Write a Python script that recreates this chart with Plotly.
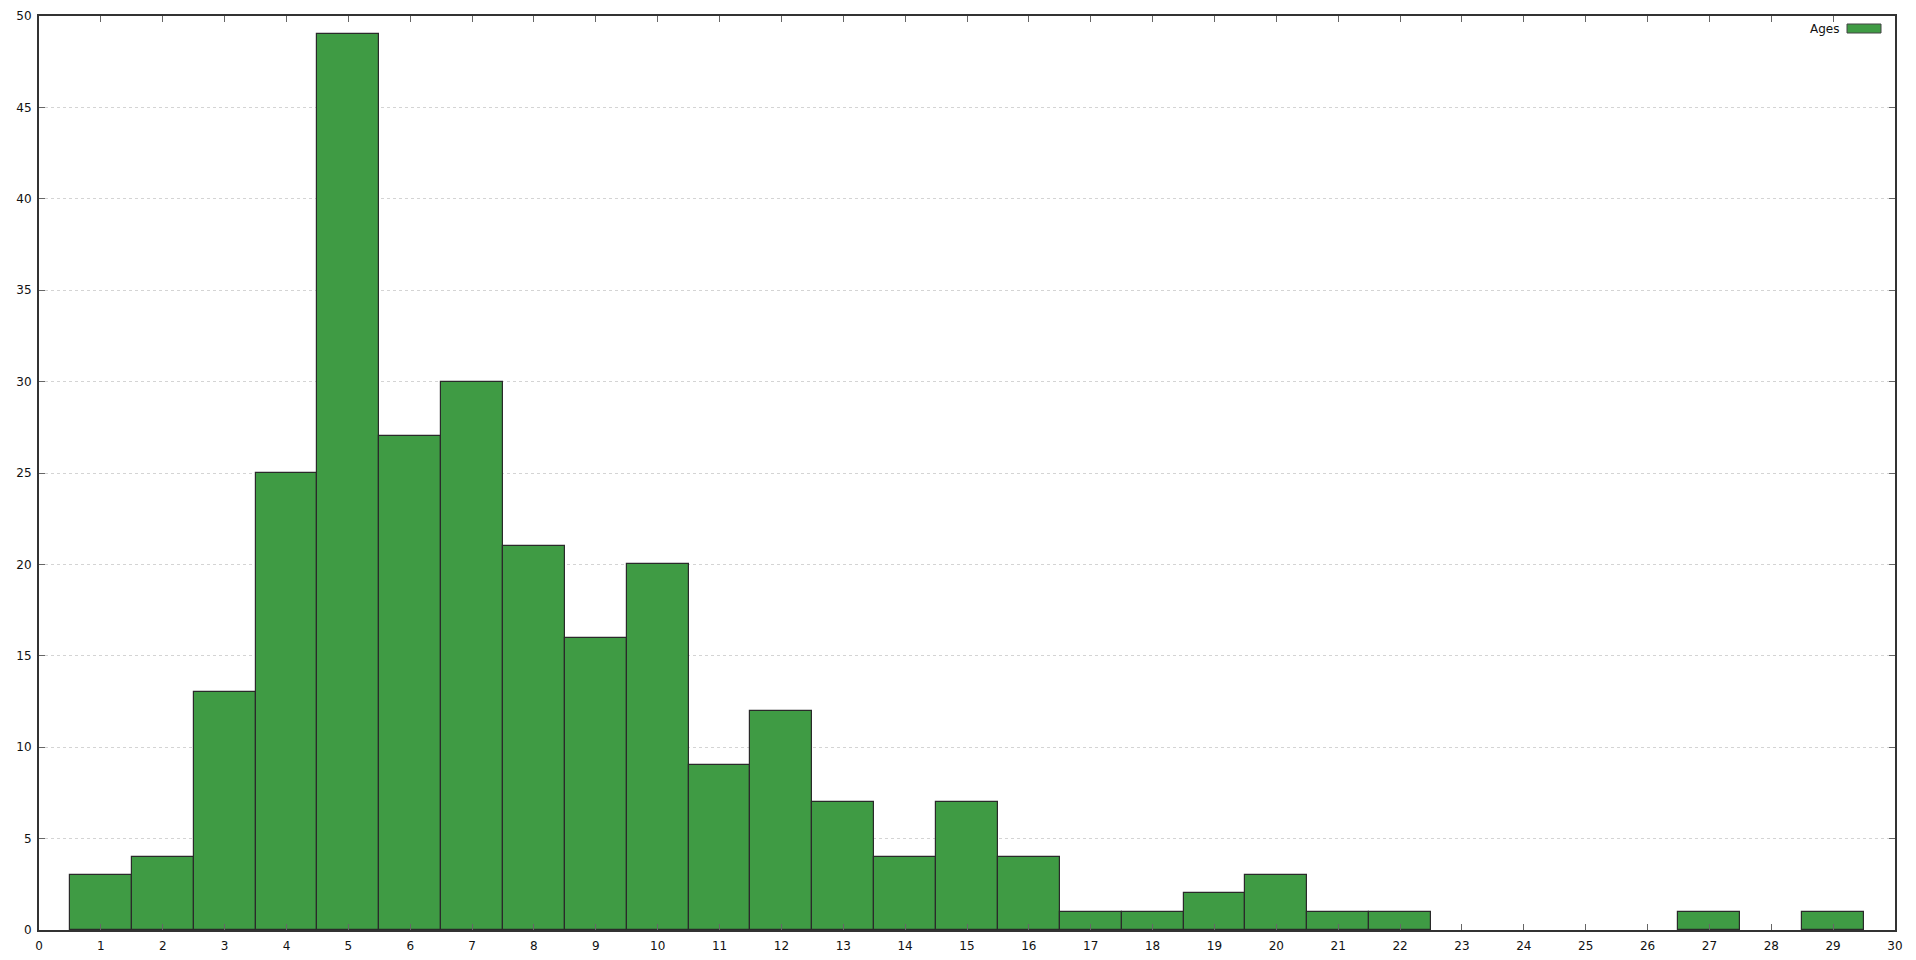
import plotly.graph_objects as go

ages = list(range(1, 30))
counts = [3, 4, 13, 25, 49, 27, 30, 21, 16, 20, 9, 12, 7, 4, 7, 4, 1, 1, 2, 3, 1, 1, 0, 0, 0, 0, 1, 0, 1]
series_name = "Ages"
bar_color = "#3f9b44"
x_ticks = list(range(0, 31))
y_ticks = list(range(0, 51, 5))

W, H = 1916, 960
l, t = 39, 16
r = W - 1895
b = H - 930

outline_w = [1.2 if c > 0 else 0 for c in counts]

fig = go.Figure()
fig.add_trace(go.Bar(
    x=ages, y=counts, width=1, name=series_name,
    marker=dict(color=bar_color, line=dict(color="#2a2a2a", width=outline_w)),
    showlegend=False, hoverinfo="skip",
))

font = dict(family="DejaVu Sans", size=12, color="#111")
fig.update_layout(
    width=W, height=H,
    margin=dict(l=l, r=r, t=t, b=b, pad=0, autoexpand=False),
    paper_bgcolor="white", plot_bgcolor="white",
    font=font,
    bargap=0,
)
fig.update_xaxes(
    range=[0, 30], tickvals=x_ticks, showgrid=False, zeroline=False,
    showline=True, linecolor="#333", linewidth=2, mirror="ticks",
    ticks="inside", ticklen=6, tickcolor="#666", tickwidth=1,
    automargin=False, ticklabelstandoff=4,
)
fig.update_yaxes(
    range=[0, 50], tickvals=y_ticks, showgrid=True, gridcolor="#d4d4d4",
    griddash="dot", gridwidth=1, zeroline=False,
    showline=True, linecolor="#333", linewidth=2, mirror="ticks",
    ticks="inside", ticklen=6, tickcolor="#666", tickwidth=1,
    automargin=False, ticklabelstandoff=3,
)

# legend key (text left of the sample box, gnuplot style), page pixel coords
pw, ph = W - l - r, H - t - b
def px(xp):
    return (xp - l) / pw
def py(yp):
    return (H - yp - b) / ph

fig.add_annotation(
    x=px(1841), y=py(29), xref="paper", yref="paper", text=series_name,
    showarrow=False, xanchor="right", yanchor="middle", font=font,
)
fig.add_shape(
    type="rect", xref="paper", yref="paper",
    x0=px(1847), x1=px(1881), y0=py(33), y1=py(24),
    fillcolor=bar_color, line=dict(color="#444", width=1),
)

fig.write_html(
    "out.html",
    config={"displayModeBar": False},
    post_script="document.body.style.margin='0';document.body.style.overflow='hidden';",
)
